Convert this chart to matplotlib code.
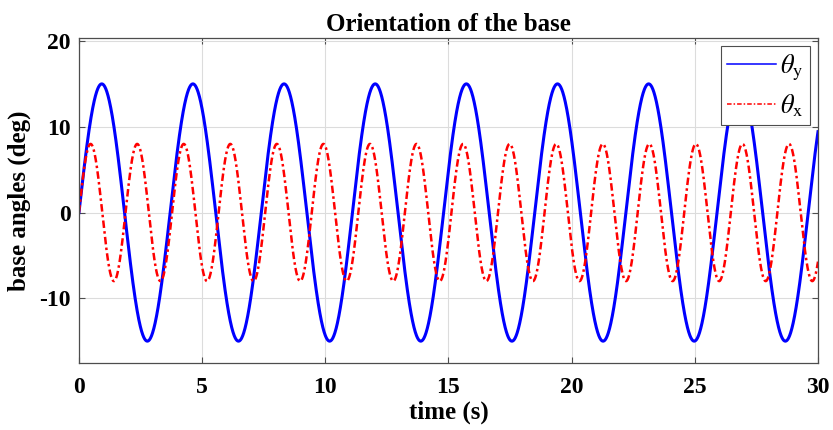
import numpy as np
import matplotlib
matplotlib.use("Agg")
import matplotlib.pyplot as plt

# ---- data ----
time_range = [0, 30]                 # s
theta_y_amplitude = 15.0             # deg
theta_y_period = 3.70                # s
theta_x_amplitude = 8.0              # deg
theta_x_period = 1.89                # s
x_ticks = [0, 5, 10, 15, 20, 25, 30]
y_ticks = [-10, 0, 10, 20]
series_labels = [r'$\theta_{\mathrm{y}}$', r'$\theta_{\mathrm{x}}$']

t = np.linspace(time_range[0], time_range[1], 3001)
theta_y = theta_y_amplitude * np.sin(2 * np.pi * t / theta_y_period)
theta_x = theta_x_amplitude * np.sin(2 * np.pi * t / theta_x_period)

plt.rcParams['font.family'] = ['Liberation Serif', 'DejaVu Serif']
plt.rcParams['mathtext.fontset'] = 'stix'
plt.rcParams['axes.unicode_minus'] = False

fig = plt.figure(figsize=(8.33, 4.30), dpi=100)
ax = fig.add_axes([0.0948, 0.1558, 0.982 - 0.0948, 0.9116 - 0.1558])

ax.plot(t, theta_y, color='#0000ff', lw=2.2, label=series_labels[0])
ax.plot(t, theta_x, color='#ff0000', lw=1.8, ls=(0, (3, 1.3, 1, 1.3)),
        label=series_labels[1])

ax.set_xlim(0, 30)
ax.set_ylim(-17.55, 20.35)
ax.set_xticks(x_ticks)
ax.set_yticks(y_ticks)
ax.grid(True, color='#dcdcdc', lw=0.8)
ax.set_axisbelow(True)
for s in ax.spines.values():
    s.set_color('#4d4d4d')
    s.set_linewidth(0.9)
ax.tick_params(direction='in', top=True, right=True, length=4, width=0.8,
               color='#4d4d4d', labelsize=17)
ax.tick_params(axis='x', pad=10)
ax.tick_params(axis='y', pad=6)
for lab in ax.get_xticklabels() + ax.get_yticklabels():
    lab.set_fontweight('bold')

ax.set_title('Orientation of the base', fontsize=18, fontweight='bold', pad=5)
ax.set_xlabel('time (s)', fontsize=18, fontweight='bold', labelpad=2)
ax.set_ylabel('base angles (deg)', fontsize=18, fontweight='bold', labelpad=6)

leg = ax.legend(loc='upper right', fontsize=19, frameon=True, fancybox=False,
                framealpha=1.0, edgecolor='#4d4d4d', handlelength=1.85,
                borderpad=0.25, labelspacing=0.35, handletextpad=0.15,
                borderaxespad=0.3)
leg.get_frame().set_linewidth(0.8)
for h in leg.get_lines():
    h.set_linewidth(1.1)

fig.savefig('out.png', dpi=100)
